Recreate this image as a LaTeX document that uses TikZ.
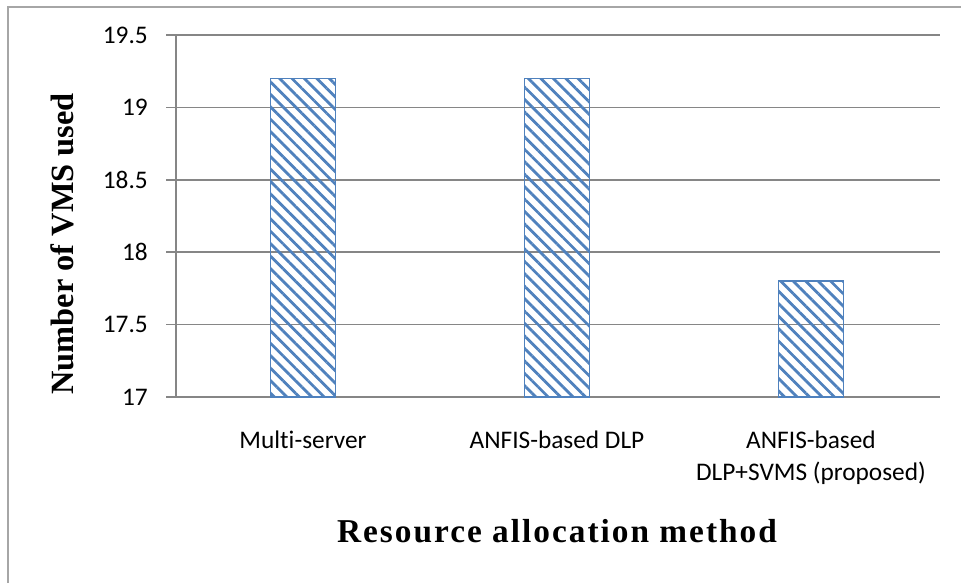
\documentclass[tikz,border=0pt]{standalone}
\usepackage{fontspec}
\setmainfont{Liberation Serif}
\newfontfamily\calibri[Ligatures=NoCommon]{Carlito}
\newfontfamily\widetitle[LetterSpace=6]{Liberation Serif}
\usepackage{tikz}
\usetikzlibrary{positioning,patterns.meta}
\definecolor{barblue}{HTML}{4F81BD}
\definecolor{gridgray}{HTML}{868686}
\definecolor{framegray}{HTML}{A6A6A6}

\begin{document}
\begin{tikzpicture}[x=0.75pt, y=-0.75pt,
  ticklabel/.style={font=\calibri\fontsize{19}{22}\selectfont, anchor=east, inner sep=0pt},
  catlabel/.style={font=\calibri\fontsize{19}{22}\selectfont, anchor=base, inner sep=0pt},
  axtitle/.style={font=\bfseries\fontsize{24.3}{28}\selectfont, inner sep=0pt},
  hatchbar/.style={draw=barblue, line width=1.3pt, pattern={Lines[angle=-45, distance=6.6pt, line width=2.1pt]}, pattern color=barblue}]
\useasboundingbox (0,0) rectangle (961,583);
\draw[framegray, line width=1.3pt] (8,583) -- (8,7) -- (961,7);
\foreach \k/\lab in {0/17,1/17.5,2/18,3/18.5,4/19,5/19.5} {
  \draw[gridgray, line width=1.1pt] (166,{397-72.4*\k}) -- (940,{397-72.4*\k});
  \node[ticklabel] (t\k) at (148,{397-72.4*\k}) {\lab};
}
\draw[gridgray, line width=1.1pt] (176,35) -- (176,397);
\foreach \c/\v [count=\i] in {303/19.2,557/19.2,811/17.8} {
  \path[hatchbar] (\c-32.5,397) rectangle (\c+32.5,{397-(\v-17)*144.8});
}
\node[catlabel] (cat1) at (303,448) {Multi-server};
\node[catlabel] (cat2) at (557,448) {ANFIS-based DLP};
\node[catlabel] (cat3) at (811,448) {ANFIS-based};
\node[catlabel] (cat3b) at (811,480) {DLP+SVMS (proposed)};
\node[axtitle, font=\widetitle\bfseries\fontsize{25}{28}\selectfont, anchor=base] (xtitle) at (557,542) {Resource allocation method};
\node[axtitle, rotate=90] (ytitle) at (62,244) {Number of VMS used};
\end{tikzpicture}
\end{document}
